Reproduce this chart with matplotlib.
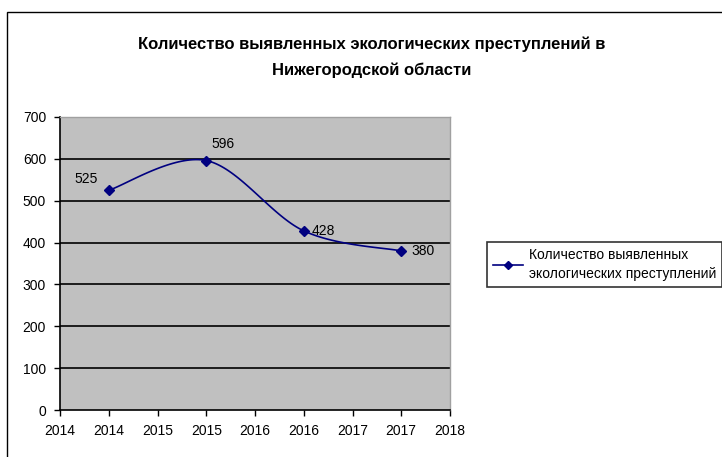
import math
import numpy as np
import matplotlib
matplotlib.use("Agg")
import matplotlib.pyplot as plt
from matplotlib.patches import Rectangle
from matplotlib.ticker import FixedLocator, FuncFormatter
from matplotlib.lines import Line2D

plt.rcParams['font.family'] = ['Liberation Sans Narrow', 'Liberation Sans', 'DejaVu Sans']

title = "Количество выявленных экологических преступлений в\nНижегородской области"
series_name = "Количество выявленных\nэкологических преступлений"
years = [2014, 2015, 2016, 2017]
counts = [525, 596, 428, 380]
label_offsets = [(-16, 8), (12, 12), (14, 0), (16, 0)]  # label placement in points
y_ticks = [0, 100, 200, 300, 400, 500, 600, 700]

W, H = 722, 457
fig = plt.figure(figsize=(W / 100, H / 100), dpi=100)
fig.patch.set_facecolor('white')

# chart frame
fig.add_artist(Rectangle((7 / W, -0.1), 1.2, (H - 12) / H + 0.1, transform=fig.transFigure,
                         fill=False, edgecolor='black', linewidth=1.0))

ax = fig.add_axes([60 / W, (H - 410) / H, (450 - 60) / W, (410 - 117) / H])
ax.set_facecolor('#C0C0C0')
ax.set_xlim(years[0] - 0.5, years[-1] + 0.5)
ax.set_ylim(0, 700)

for yv in y_ticks[1:-1]:
    ax.axhline(yv, color='black', linewidth=1.2, zorder=1)

# smooth curve through points (Catmull-Rom)
def smooth(xs, ys, n=40):
    px = [xs[0]] + list(xs) + [xs[-1]]
    py = [ys[0]] + list(ys) + [ys[-1]]
    ox, oy = [], []
    for i in range(1, len(px) - 2):
        p0, p1, p2, p3 = [np.array([px[j], py[j]], float) for j in (i - 1, i, i + 1, i + 2)]
        c1 = p1 + (p2 - p0) / 6
        c2 = p2 - (p3 - p1) / 6
        t = np.linspace(0, 1, n)[:, None]
        pts = (1 - t) ** 3 * p1 + 3 * (1 - t) ** 2 * t * c1 + 3 * (1 - t) * t ** 2 * c2 + t ** 3 * p2
        ox.extend(pts[:, 0]); oy.extend(pts[:, 1])
    return ox, oy

sx, sy = smooth(years, counts)
ax.plot(sx, sy, color='#000080', linewidth=1.2, zorder=3)
ax.plot(years, counts, linestyle='none', marker='D', markersize=5, color='#000080', zorder=4)

for x, y, (dx, dy) in zip(years, counts, label_offsets):
    ax.annotate(str(y), (x, y), xytext=(dx, dy), textcoords='offset points',
                ha='center', va='center', fontsize=10, color='black')

ax.yaxis.set_major_locator(FixedLocator(y_ticks))
ax.xaxis.set_major_locator(FixedLocator(np.arange(years[0] - 0.5, years[-1] + 0.51, 0.5)))
ax.xaxis.set_major_formatter(FuncFormatter(lambda v, p: str(math.ceil(v - 1e-9))))
ax.tick_params(axis='both', direction='out', length=4, width=1, labelsize=10, colors='black')
ax.tick_params(axis='y', pad=6)
ax.tick_params(axis='x', pad=6)

for s in ('left', 'bottom'):
    ax.spines[s].set_color('black'); ax.spines[s].set_linewidth(1.2)
for s in ('top', 'right'):
    ax.spines[s].set_color('#A0A0A0'); ax.spines[s].set_linewidth(1.0)

fig.text(372 / W, 1 - 57 / H, title, ha='center', va='center', fontsize=12,
         fontweight='bold', linespacing=1.8)

handle = Line2D([], [], color='#000080', marker='D', markersize=4, linewidth=1.2)
leg = fig.legend([handle], [series_name], loc='upper left',
                 bbox_to_anchor=(487 / W, 1 - 242 / H), fontsize=10, frameon=True,
                 fancybox=False, edgecolor='black', handlelength=2.2, borderpad=0.4,
                 handletextpad=0.4, borderaxespad=0)
leg.get_texts()[0].set_linespacing(1.5)
leg.get_frame().set_linewidth(1.2)

fig.savefig('out.png', dpi=100)
